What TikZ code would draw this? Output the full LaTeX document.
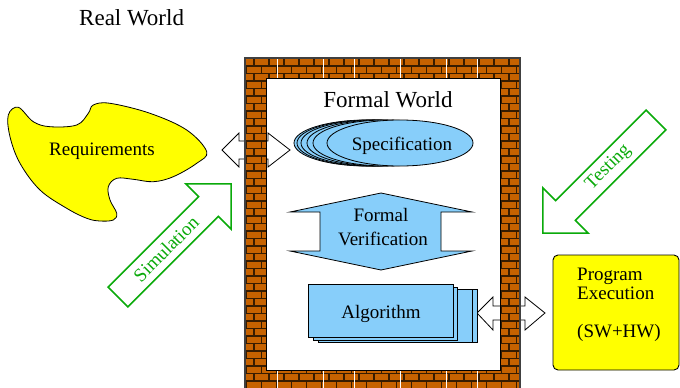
\documentclass[tikz,border=0pt]{standalone}
\usepackage{fontspec}
\setmainfont{Liberation Serif}
\definecolor{brickc}{RGB}{198,98,0}
\definecolor{mortarc}{RGB}{55,28,0}
\definecolor{lblue}{RGB}{135,206,250}
\definecolor{reqyellow}{RGB}{255,255,0}
\definecolor{simgreen}{RGB}{10,170,10}
\begin{document}
\begin{tikzpicture}[x=1pt,y=-1pt,
  txt/.style={font=\rmfamily\fontsize{19}{19}\selectfont, inner sep=0pt},
  bigtxt/.style={font=\rmfamily\fontsize{23}{26}\selectfont, inner sep=0pt},
  dblarrow/.style={draw=black, fill=white, line width=0.8pt, line join=miter},
  greenarr/.style={draw=simgreen, fill=white, line width=1.6pt, line join=miter},
  greentxt/.style={txt, text=simgreen, rotate=45},
  bluefill/.style={draw=black, fill=lblue, line width=0.8pt},
  mortar/.style={draw=mortarc, line width=1.2pt}
]
\useasboundingbox (0,0) rectangle (680,388);

% Real World
\node[bigtxt, anchor=base west] (rw) at (79,25) {Real World};

% Requirements blob
\draw[fill=reqyellow, line width=0.8pt] plot[smooth cycle, tension=0.6] coordinates {(8.3,115) (18.3,107.3) (33.3,121.7) (50,126.7) (76.7,125) (88.3,113.3) (93.3,105) (110,103.3) (150,113.3) (186.7,130) (206.7,151.7) (196.7,163.3) (173.3,176.7) (153.3,181.7) (133.3,179.3) (116.7,178.3) (108.3,186.7) (110,200) (116.7,213.3) (113.3,220) (100,221) (86.7,218.3) (66.7,208.3) (40,190) (20,163.3) (10,136.7)};
\node[txt, anchor=base] (req) at (102,155) {Requirements};

% double arrows through the wall
\draw[dblarrow] (222,150) -- (239,133) -- (239,141) -- (268,141) -- (268,133) -- (290,150) -- (268,167) -- (268,159) -- (239,159) -- (239,167) -- cycle;
\draw[dblarrow] (477,313) -- (493,297) -- (493,306) -- (525,306) -- (525,297) -- (545,313) -- (525,330) -- (525,320) -- (493,320) -- (493,330) -- cycle;

% brick wall
\begin{scope}[even odd rule]
\clip (245,58) rectangle (520,388) (266,78) rectangle (500,370);
\fill[brickc] (245,58) rectangle (520,388);
\foreach \k in {0,...,44} {
  \pgfmathsetmacro\yy{58.5+7.5*\k}
  \pgfmathsetmacro\off{mod(\k,2)*7.5}
  \draw[mortar] (245,\yy) -- (520,\yy);
  \foreach \j in {0,...,19} {
    \pgfmathsetmacro\xx{239+\off+15*\j}
    \draw[mortar] (\xx,\yy) -- (\xx,\yy+7.5);
  }
}
\foreach \x in {277,323,354,400,446,477} {
  \draw[white, line width=1pt] (\x,58) -- (\x,78);
  \draw[white, line width=1pt] (\x,370) -- (\x,388);
}
\end{scope}
\draw[black!75, line width=1.2pt] (245,388) -- (245,58) -- (520,58) -- (520,388);
\draw[black, line width=1pt] (266,78) rectangle (500,370);

% Formal World
\node[bigtxt, anchor=base] (fw) at (388,107) {Formal World};

% Specification (stacked ellipses)
\foreach \dx in {-33,-30,-26,-20,-14} {
  \draw[bluefill] (400+\dx,143) ellipse [x radius=73pt, y radius=23pt];
}
\draw[bluefill] (400,143) ellipse [x radius=73pt, y radius=23pt];
\node[txt, anchor=base] (spec) at (402,150) {Specification};

% Formal Verification double arrow
\draw[bluefill] (381,193) -- (472,212) -- (441,212) -- (441,251) -- (472,251) -- (381,270) -- (290,251) -- (320,251) -- (320,212) -- (290,212) -- cycle;
\node[txt, anchor=base] (fv1) at (381,221.5) {Formal};
\node[txt, anchor=base] (fv2) at (383,245) {Verification};

% Algorithm (stacked rectangles)
\draw[bluefill] (318,289) rectangle (477,342);
\draw[bluefill] (318,289) rectangle (472,342);
\draw[bluefill] (313,287) rectangle (457,340);
\draw[bluefill] (308,284) rectangle (453,337);
\node[txt, anchor=base] (alg) at (381,318) {Algorithm};

% Program Execution
\draw[fill=reqyellow, line width=0.9pt, rounded corners=5pt] (553,255) rectangle (679,370);
\node[txt, anchor=base west] (pe1) at (577,280) {Program};
\node[txt, anchor=base west] (pe2) at (577,299) {Execution};
\node[txt, anchor=base west] (pe3) at (577,337) {(SW+HW)};

% Simulation arrow
\begin{scope}[shift={(118,297)}, rotate=45]
\draw[greenarr] (0,-14) -- (128,-14) -- (128,-32) -- (160,0) -- (128,32) -- (128,14) -- (0,14) -- cycle;
\end{scope}
\node[greentxt] (sim) at (166,249) {Simulation};

% Testing arrow
\begin{scope}[shift={(656,120)}, rotate=225]
\draw[greenarr] (0,-14) -- (128,-14) -- (128,-32) -- (160,0) -- (128,32) -- (128,14) -- (0,14) -- cycle;
\end{scope}
\node[greentxt] (test) at (608.5,167.5) {Testing};
\end{tikzpicture}
\end{document}
